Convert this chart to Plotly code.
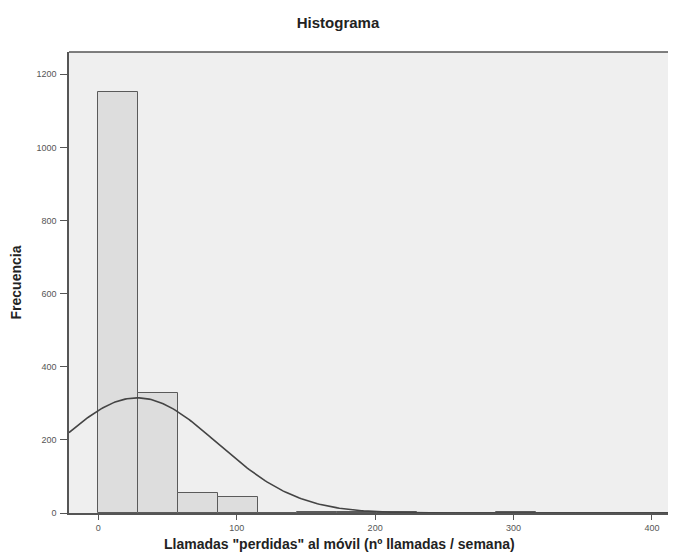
import numpy as np
import plotly.graph_objects as go

# histogram bins (bin width ~28.75)
bin_width = 28.75
bin_left = [0, 28.75, 57.5, 86.25, 115, 143.75, 172.5, 201.25, 230, 258.75,
            287.5, 316.25, 345, 373.75, 402.5]
counts = [1151, 328, 56, 45, 0, 2, 2, 4, 0, 0, 3, 0, 0, 1, 1]

# fitted normal curve parameters (as SPSS draws it)
curve_mean = 28
curve_sd = 58

x_ticks = [0, 100, 200, 300, 400]
y_ticks = [0, 200, 400, 600, 800, 1000, 1200]

n_total = sum(counts)
xs = np.linspace(-21.2, 411.6, 300)
ys = n_total * bin_width * np.exp(-0.5 * ((xs - curve_mean) / curve_sd) ** 2) / (curve_sd * np.sqrt(2 * np.pi))

bars = go.Bar(
    x=bin_left, y=counts, width=bin_width, offset=0,
    marker=dict(color="#dddddd", line=dict(color="#5a5a5a", width=1)),
    hoverinfo="y"
)

curve = go.Scatter(
    x=xs, y=ys, mode="lines",
    line=dict(color="#444444", width=1.6),
    hoverinfo="none"
)

fig = go.Figure(data=[bars, curve])

# page body has an 8px margin, so the figure is sized to fit inside the window
fig.update_layout(
    width=660, height=544,
    margin=dict(l=61, r=0, t=44, b=39),
    paper_bgcolor="white",
    plot_bgcolor="#efefef",
    showlegend=False,
    bargap=0,
    font=dict(family="Liberation Sans, Arial, sans-serif"),
    title=dict(text="<b>Histograma</b>", x=0.5, xanchor="center", y=0.972, yanchor="middle",
               font=dict(size=15, color="#222222")),
    # top border of the frame (right side is cut off in the original)
    shapes=[dict(type="line", xref="paper", yref="paper", x0=0, x1=1, y0=1, y1=1,
                 line=dict(color="#555555", width=1.5))],
    annotations=[dict(text="<b>Llamadas \"perdidas\" al móvil (nº llamadas / semana)</b>",
                      xref="paper", yref="paper", x=0.451, y=0, yshift=-31,
                      xanchor="center", yanchor="middle", showarrow=False,
                      font=dict(size=14, color="#222222"))],
)

fig.update_xaxes(
    range=[-21.2, 411.6], tickvals=x_ticks, ticks="outside", ticklen=5,
    tickcolor="#555555", tickfont=dict(size=9, color="#555555"),
    showgrid=False, zeroline=False, automargin=False,
    showline=True, linecolor="#555555", linewidth=1.5,
)

fig.update_yaxes(
    range=[0, 1261], tickvals=y_ticks, ticks="outside", ticklen=7,
    tickcolor="#555555", tickfont=dict(size=9, color="#555555"),
    ticklabelstandoff=2,
    showgrid=False, zeroline=False, automargin=False,
    showline=True, linecolor="#555555", linewidth=1.5,
    title=dict(text="<b>Frecuencia</b>", font=dict(size=14, color="#222222"), standoff=20),
)

fig.write_html("out.html")
